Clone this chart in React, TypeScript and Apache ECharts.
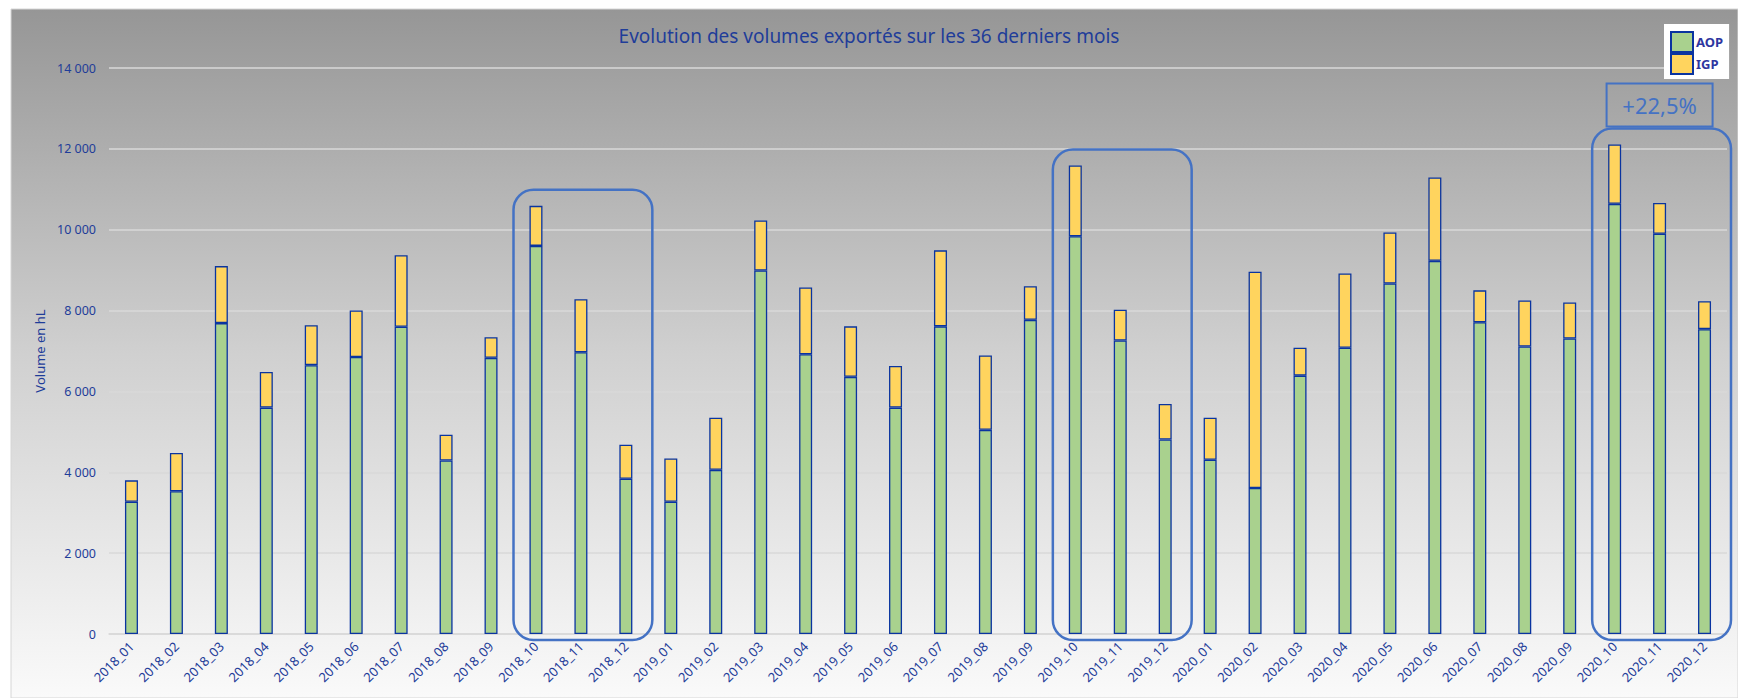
import React, { useEffect, useRef } from "react";
import * as echarts from "echarts";

const categories = [
  "2018_01", "2018_02", "2018_03", "2018_04", "2018_05", "2018_06",
  "2018_07", "2018_08", "2018_09", "2018_10", "2018_11", "2018_12",
  "2019_01", "2019_02", "2019_03", "2019_04", "2019_05", "2019_06",
  "2019_07", "2019_08", "2019_09", "2019_10", "2019_11", "2019_12",
  "2020_01", "2020_02", "2020_03", "2020_04", "2020_05", "2020_06",
  "2020_07", "2020_08", "2020_09", "2020_10", "2020_11", "2020_12",
];

const aopValues = [
  3270, 3530, 7690, 5600, 6650, 6850, 7600, 4290, 6830, 9600, 6970, 3840,
  3270, 4060, 8990, 6920, 6360, 5600, 7610, 5050, 7770, 9840, 7260, 4810,
  4310, 3610, 6390, 7080, 8670, 9230, 7710, 7110, 7310, 10640, 9900, 7540,
];

const igpValues = [
  530, 950, 1410, 880, 990, 1150, 1770, 640, 510, 990, 1310, 840,
  1070, 1290, 1240, 1650, 1250, 1030, 1880, 1840, 830, 1750, 760, 880,
  1040, 5350, 690, 1840, 1260, 2060, 790, 1140, 890, 1470, 760, 690,
];

const highlightGroups = [
  [9, 11],
  [21, 23],
  [33, 35],
];
const growthText = "+22,5%";

const TEXT_BLUE = "#1F3D99";
const BOX_BLUE = "#4472C4";
const FONT = "'Noto Sans', sans-serif";

export default function App() {
  const ref = useRef<HTMLDivElement>(null);

  useEffect(() => {
    const el = ref.current;
    if (!el) return;
    const chart = echarts.init(el, null, { renderer: "svg" });
    const totals = aopValues.map((v, i) => v + igpValues[i]);

    chart.setOption({
      animation: false,
      backgroundColor: "#ffffff",
      textStyle: { fontFamily: FONT },
      title: {
        text: "Evolution des volumes exportés sur les 36 derniers mois",
        left: "center",
        top: 21,
        padding: [5, 0, 5, 38],
        textStyle: {
          color: TEXT_BLUE,
          fontSize: 19,
          fontWeight: "normal",
          fontFamily: FONT,
        },
      },
      legend: {
        orient: "vertical",
        left: 1664,
        top: 24,
        icon: "rect",
        itemWidth: 22,
        itemHeight: 20,
        itemGap: 0,
        backgroundColor: "#ffffff",
        padding: [7, 6, 4, 6],
        textStyle: {
          color: "#2E36A0",
          fontWeight: "bold",
          fontSize: 13,
          fontFamily: FONT,
          padding: [0, 0, 0, -2],
        },
        data: ["AOP", "IGP"],
      },
      grid: { left: 109, right: 11, top: 68, bottom: 64 },
      xAxis: {
        type: "category",
        data: categories,
        axisLine: { show: true, lineStyle: { color: "#D9D9D9", width: 1.5 } },
        axisTick: { show: false },
        axisLabel: {
          interval: 0,
          rotate: 45,
          margin: 10,
          color: TEXT_BLUE,
          fontSize: 13,
          fontFamily: FONT,
        },
      },
      yAxis: {
        type: "value",
        min: 0,
        max: 14000,
        interval: 2000,
        name: "Volume en hL",
        nameLocation: "middle",
        nameGap: 59,
        nameRotate: 90,
        nameTextStyle: {
          color: TEXT_BLUE,
          fontSize: 13,
          fontFamily: FONT,
        },
        axisLine: { show: false },
        axisTick: { show: false },
        axisLabel: {
          margin: 13,
          color: TEXT_BLUE,
          fontSize: 12.5,
          fontFamily: FONT,
          formatter: (v: number) =>
            String(v).replace(/\B(?=(\d{3})+(?!\d))/g, " "),
        },
        splitLine: { lineStyle: { color: "#D9D9D9", width: 1.5 } },
      },
      series: [
        {
          name: "AOP",
          type: "bar",
          stack: "total",
          data: aopValues,
          barWidth: 13,
          itemStyle: {
            color: "#A9D18E",
            borderColor: "#0A34A0",
            borderWidth: 1.3,
          },
        },
        {
          name: "IGP",
          type: "bar",
          stack: "total",
          data: igpValues,
          barWidth: 13,
          itemStyle: {
            color: "#FFD45E",
            borderColor: "#0A34A0",
            borderWidth: 1.3,
          },
        },
      ],
    });

    const px = (i: number) =>
      chart.convertToPixel({ xAxisIndex: 0 }, categories[i]) as number;
    const py = (v: number) =>
      chart.convertToPixel({ yAxisIndex: 0 }, v) as number;
    const catW = px(1) - px(0);
    const zeroY = py(0);

    const bg = new echarts.graphic.LinearGradient(0, 0, 0, 1, [
      { offset: 0, color: "#969696" },
      { offset: 0.5, color: "#d0d0d0" },
      { offset: 1, color: "#fafafa" },
    ]);

    const graphics: any[] = [
      {
        type: "rect",
        silent: true,
        z: -100,
        shape: { x: 11, y: 9, width: 1727, height: 689 },
        style: { fill: bg, stroke: "#D6D6D6", lineWidth: 1 },
      },
    ];

    let lastTop = 0;
    highlightGroups.forEach(([a, b]) => {
      let maxT = 0;
      for (let i = a; i <= b; i++) maxT = Math.max(maxT, totals[i]);
      const left = px(a) - catW / 2;
      const right = px(b) + catW / 2 + 4;
      const top = py(maxT) - 16;
      const bottom = zeroY + 6;
      lastTop = top;
      graphics.push({
        type: "rect",
        silent: true,
        z: 50,
        shape: { x: left, y: top, width: right - left, height: bottom - top, r: 20 },
        style: { fill: "rgba(0,0,0,0)", stroke: BOX_BLUE, lineWidth: 2.5 },
      });
    });

    const lastGroup = highlightGroups[highlightGroups.length - 1];
    const midX = (px(lastGroup[0]) + px(lastGroup[1])) / 2;
    const boxH = 43;
    const boxW = 106;
    const boxY = lastTop - boxH - 2;
    graphics.push({
      type: "rect",
      silent: true,
      z: 50,
      shape: { x: midX - boxW / 2, y: boxY, width: boxW, height: boxH },
      style: { fill: "rgba(0,0,0,0)", stroke: BOX_BLUE, lineWidth: 2 },
    });
    graphics.push({
      type: "text",
      silent: true,
      z: 51,
      x: midX,
      y: boxY + boxH / 2,
      style: {
        text: growthText,
        fill: BOX_BLUE,
        font: `22px ${FONT}`,
        align: "center",
        verticalAlign: "middle",
      },
    });

    chart.setOption({ graphic: graphics });

    return () => chart.dispose();
  }, []);

  return (
    <div
      ref={ref}
      style={{ position: "absolute", left: 0, top: 0, width: 1738, height: 698 }}
    />
  );
}
